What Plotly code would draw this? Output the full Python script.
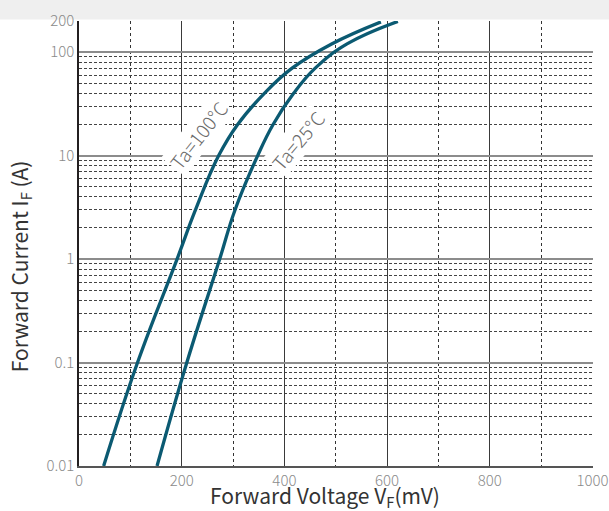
import plotly.graph_objects as go

# Data
v_100 = [48, 114, 191, 227, 272, 309, 361, 415, 492, 588]
i_100 = [0.01, 0.1, 1, 3, 10, 20, 40, 70, 120, 196]
v_25 = [152, 210, 274, 304, 348, 378, 418, 460, 522, 621]
i_25 = [0.01, 0.1, 1, 3, 10, 20, 40, 70, 120, 198]

x_ticks = [0, 200, 400, 600, 800, 1000]
x_minor = [100, 300, 500, 700, 900]
y_ticks = [0.01, 0.1, 1, 10, 100, 200]
y_ticktext = ["0.01", "0.1", "1", "10", "100", "200"]
y_minor = [m * 10 ** e for e in range(-2, 2) for m in range(2, 10)]

label_100 = "Ta=100°C"
label_25 = "Ta=25°C"
x_title = "Forward Voltage V<sub>F</sub>(mV)"
y_title = "Forward Current I<sub>F</sub> (A)"

curve_color = "#0b5a72"
font_family = "Noto Sans CJK JP, Noto Sans, sans-serif"

fig = go.Figure()
for vx, iy in ((v_100, i_100), (v_25, i_25)):
    fig.add_trace(go.Scatter(x=vx, y=iy, mode="lines",
                             line=dict(color=curve_color, width=3.3, shape="spline", smoothing=1.2),
                             showlegend=False))

fig.add_annotation(x=233, y=1.2, yref="y", text=label_100, showarrow=False, textangle=-52,
                   font=dict(family=font_family, size=19, color="#6a6a6a", weight=300),
                   bgcolor="white", borderpad=1)
fig.add_annotation(x=425, y=1.15, yref="y", text=label_25, showarrow=False, textangle=-50,
                   font=dict(family=font_family, size=19, color="#6a6a6a", weight=300),
                   bgcolor="white", borderpad=1)

# axis titles
fig.add_annotation(xref="paper", yref="paper", x=0.479, y=0, yshift=-30, xanchor="center", yanchor="middle",
                   text=x_title, showarrow=False, font=dict(family=font_family, size=21, color="#333333"))
fig.add_annotation(xref="paper", yref="paper", x=0, xshift=-59, y=0.449, xanchor="center", yanchor="middle",
                   text=y_title, showarrow=False, textangle=-90,
                   font=dict(family=font_family, size=21, color="#333333"))

# gray band on top
fig.add_shape(type="rect", xref="paper", yref="paper", x0=-79/514, x1=1+16/514,
              y0=1+1.5/445, y1=1+21/445, fillcolor="#efefef", line=dict(width=0), layer="below")

fig.update_layout(
    width=609, height=511,
    margin=dict(l=79, r=16, t=21, b=45, autoexpand=False),
    paper_bgcolor="white", plot_bgcolor="white",
    font=dict(family=font_family),
    xaxis=dict(
        range=[0, 1001], tickmode="array", tickvals=x_ticks, automargin=False,
        showgrid=True, gridcolor="#3a3a3a", gridwidth=1, zeroline=False,
        showline=True, linecolor="#555555", linewidth=2,
        ticks="", tickfont=dict(size=15, color="#8a8a8a", weight=300),
        ticklabeloverflow="allow",
        minor=dict(tickmode="array", tickvals=x_minor, showgrid=True, gridcolor="#333333",
                   gridwidth=1, griddash="3px,3px", ticks=""),
    ),
    yaxis=dict(
        type="log", range=[-2, 2.30103], tickmode="array", tickvals=y_ticks, ticktext=y_ticktext,
        automargin=False,
        showgrid=True, gridcolor="#8c8c8c", gridwidth=2,
        showline=True, linecolor="#231f20", linewidth=1.5,
        ticks="", tickfont=dict(size=15, color="#8a8a8a", weight=300),
        minor=dict(tickmode="array", tickvals=y_minor, showgrid=True, gridcolor="#444444",
                   gridwidth=1, griddash="3px,2px", ticks=""),
    ),
)

fig.write_html("out.html")
